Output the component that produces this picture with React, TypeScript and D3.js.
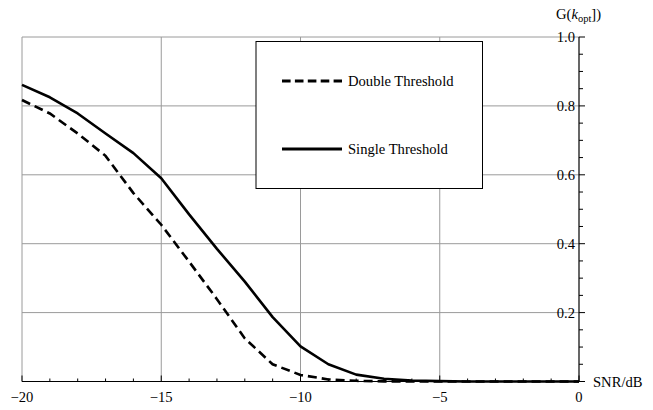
import React from "react";
import * as d3 from "d3";

const snr = [-20, -19, -18, -17, -16, -15, -14, -13, -12, -11, -10, -9, -8, -7, -6, -5, -4, -3, -2, -1, 0];
const singleThreshold = [0.861, 0.825, 0.778, 0.72, 0.663, 0.59, 0.485, 0.385, 0.29, 0.187, 0.102, 0.05, 0.02, 0.008, 0.003, 0.001, 0, 0, 0, 0, 0];
const doubleThreshold = [0.817, 0.778, 0.72, 0.655, 0.547, 0.455, 0.348, 0.239, 0.125, 0.05, 0.019, 0.006, 0.002, 0.0005, 0, 0, 0, 0, 0, 0, 0];
const xTicks = [-20, -15, -10, -5, 0];
const yTicks = [0.2, 0.4, 0.6, 0.8, 1.0];
const legendLabels = ["Double Threshold", "Single Threshold"];

const W = 653;
const H = 410;
const FONT = "Liberation Serif, Times New Roman, serif";
const ts: React.CSSProperties = { fontFamily: FONT };

export default function App() {
  const x = d3.scaleLinear().domain([-20, 0]).range([22, 579]);
  const y = d3.scaleLinear().domain([0, 1]).range([381.5, 37]);
  const line = d3
    .line<[number, number]>()
    .x((d) => x(d[0]))
    .y((d) => y(d[1]));
  const singleData = snr.map((s, i) => [s, singleThreshold[i]] as [number, number]);
  const doubleData = snr.map((s, i) => [s, doubleThreshold[i]] as [number, number]);
  const minorX = d3.range(-20, 0.001, 1);
  const minorY = d3.range(0, 1.0001, 0.05);
  const grid = "#9a9a9a";
  const x0 = x(0);
  const y0 = y(0);
  const fs = 14.6;

  return (
    <svg
      width={W}
      height={H}
      style={{ position: "absolute", left: 0, top: 0, background: "#fff", fontFamily: FONT }}
    >
      {/* grid */}
      {xTicks.filter((t) => t !== 0).map((t) => (
        <line key={"gx" + t} x1={x(t)} x2={x(t)} y1={y(1)} y2={y0} stroke={grid} strokeWidth={1} />
      ))}
      {yTicks.map((t) => (
        <line key={"gy" + t} x1={x(-20)} x2={x0} y1={y(t)} y2={y(t)} stroke={grid} strokeWidth={1} />
      ))}

      {/* x axis */}
      <line x1={x(-20)} x2={x0} y1={y0} y2={y0} stroke="#000" strokeWidth={1.2} />
      {minorX.map((t) => {
        const major = xTicks.includes(Math.round(t));
        return (
          <line key={"tx" + t} x1={x(t)} x2={x(t)} y1={y0} y2={y0 - (major ? 6 : 3)} stroke="#000" strokeWidth={1} />
        );
      })}
      {xTicks.map((t) => (
        <text key={"lx" + t} style={ts} x={x(t)} y={y0 + 20} textAnchor="middle" fontSize={fs}>
          {t < 0 ? "\u2212" + Math.abs(t) : String(t)}
        </text>
      ))}
      <text style={ts} x={593} y={y0 + 5} fontSize={fs}>SNR/dB</text>

      {/* y axis */}
      <line x1={x0} x2={x0} y1={y0} y2={y(1)} stroke="#000" strokeWidth={1.2} />
      {minorY.map((t, i) => {
        const major = i % 4 === 0;
        return (
          <line key={"ty" + i} x1={x0} x2={x0 + (major ? 6 : 4)} y1={y(t)} y2={y(t)} stroke="#000" strokeWidth={1} />
        );
      })}
      {yTicks.map((t) => (
        <text key={"ly" + t} style={ts} x={x0 - 4} y={y(t) + 5} textAnchor="end" fontSize={fs}>
          {t.toFixed(1)}
        </text>
      ))}
      <text style={ts} x={556} y={19} fontSize={fs}>
        G(<tspan fontStyle="italic">k</tspan>
        <tspan fontSize={10.5} dy={3}>opt</tspan>
        <tspan dy={-3}>])</tspan>
      </text>

      {/* curves */}
      <path d={line(singleData) || ""} fill="none" stroke="#000" strokeWidth={2.6} strokeLinejoin="round" />
      <path d={line(doubleData) || ""} fill="none" stroke="#000" strokeWidth={2.6} strokeDasharray="9,5" />

      {/* legend */}
      <rect x={256} y={41.5} width={226.5} height={147} fill="#fff" stroke="#000" strokeWidth={1} />
      <line x1={282} x2={342} y1={81} y2={81} stroke="#000" strokeWidth={2.8} strokeDasharray="8.6,4.3" />
      <text style={ts} x={348} y={86} fontSize={fs}>{legendLabels[0]}</text>
      <line x1={282} x2={342} y1={149} y2={149} stroke="#000" strokeWidth={2.8} />
      <text style={ts} x={348} y={154} fontSize={fs}>{legendLabels[1]}</text>
    </svg>
  );
}
